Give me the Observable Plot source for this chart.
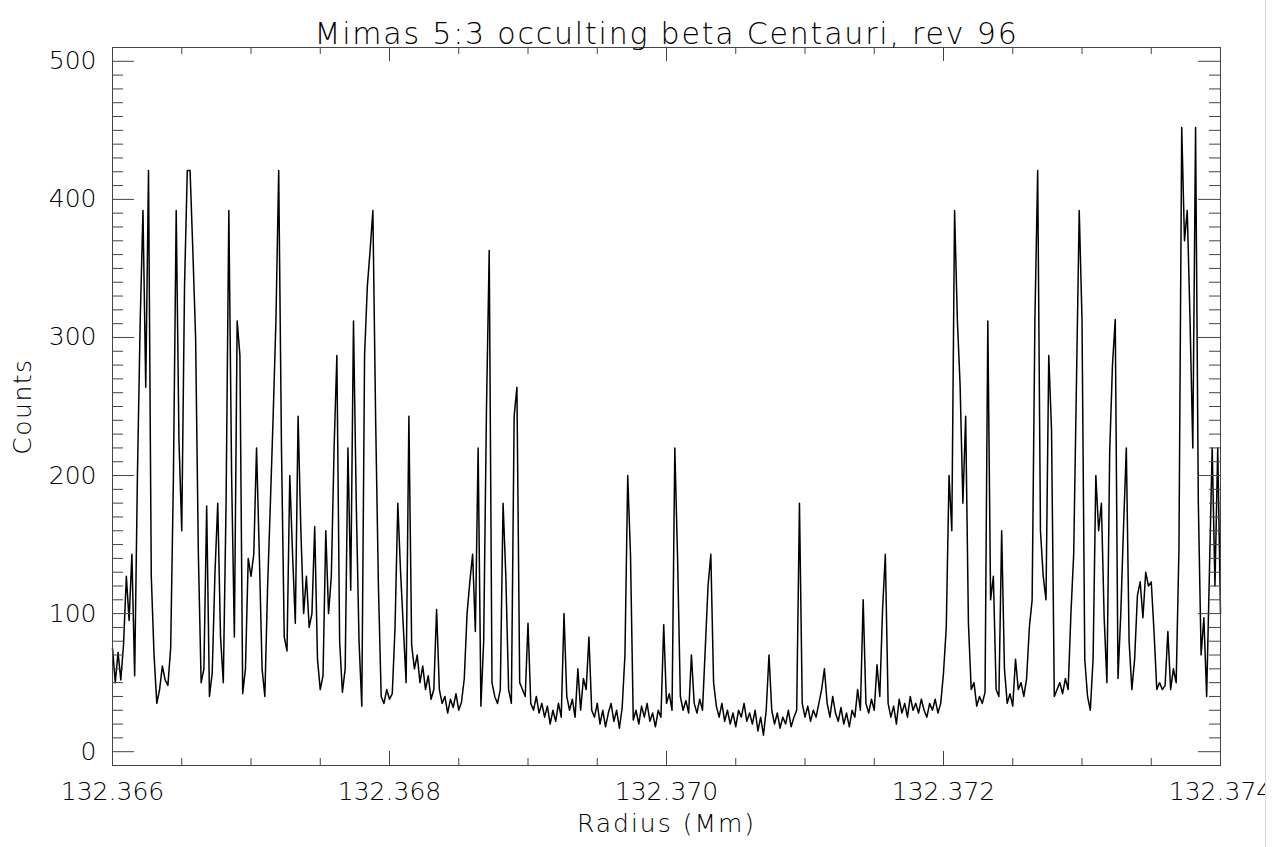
<!DOCTYPE html>
<html>
<head>
<meta charset="utf-8">
<script src="https://cdn.jsdelivr.net/npm/d3@7"></script>
<script src="https://cdn.jsdelivr.net/npm/@observablehq/plot@0.6"></script>
<style>
html, body { margin: 0; padding: 0; background: #fff; }
#chart { position: relative; width: 1272px; height: 847px; overflow: hidden; }
#chart svg text { font-weight: 200; }
#edge { position: absolute; left: 1265px; top: 0; width: 7px; height: 847px; background: #fff; border-left: 1px solid #d9d9d9; box-sizing: border-box; }
</style>
</head>
<body>
<div id="chart"></div>
<script>
// ---- Chart text ----
const title = "Mimas 5:3 occulting beta Centauri, rev 96";
const xLabel = "Radius (Mm)";
const yLabel = "Counts";

// ---- Axis ticks ----
const xTicks = [132.366, 132.368, 132.370, 132.372, 132.374];
const xTickLabels = ["132.366", "132.368", "132.370", "132.372", "132.374"];
const xMinorTicks = [132.3665, 132.3670, 132.3675, 132.3685, 132.3690, 132.3695,
                     132.3705, 132.3710, 132.3715, 132.3725, 132.3730, 132.3735];
const yTicks = [0, 100, 200, 300, 400, 500];
const yTickLabels = ["0", "100", "200", "300", "400", "500"];
const yMinorTicks = [10, 20, 30, 40, 50, 60, 70, 80, 90,
                     110, 120, 130, 140, 150, 160, 170, 180, 190,
                     210, 220, 230, 240, 250, 260, 270, 280, 290,
                     310, 320, 330, 340, 350, 360, 370, 380, 390,
                     410, 420, 430, 440, 450, 460, 470, 480, 490];

// ---- Series: radius (Mm) ----
const radius = [
132.36600,132.36602,132.36604,132.36606,132.36608,132.36610,132.36612,132.36614,132.36616,132.36618,
132.36620,132.36622,132.36624,132.36626,132.36628,132.36630,132.36632,132.36634,132.36636,132.36638,
132.36640,132.36642,132.36644,132.36646,132.36648,132.36650,132.36652,132.36654,132.36656,132.36658,
132.36660,132.36662,132.36664,132.36666,132.36668,132.36670,132.36672,132.36674,132.36676,132.36678,
132.36680,132.36682,132.36684,132.36686,132.36688,132.36690,132.36692,132.36694,132.36696,132.36698,
132.36700,132.36702,132.36704,132.36706,132.36708,132.36710,132.36712,132.36714,132.36716,132.36718,
132.36720,132.36722,132.36724,132.36726,132.36728,132.36730,132.36732,132.36734,132.36736,132.36738,
132.36740,132.36742,132.36744,132.36746,132.36748,132.36750,132.36752,132.36754,132.36756,132.36758,
132.36760,132.36762,132.36764,132.36766,132.36768,132.36770,132.36772,132.36774,132.36776,132.36778,
132.36780,132.36782,132.36784,132.36786,132.36788,132.36790,132.36792,132.36794,132.36796,132.36798,
132.36800,132.36802,132.36804,132.36806,132.36808,132.36810,132.36812,132.36814,132.36816,132.36818,
132.36820,132.36822,132.36824,132.36826,132.36828,132.36830,132.36832,132.36834,132.36836,132.36838,
132.36840,132.36842,132.36844,132.36846,132.36848,132.36850,132.36852,132.36854,132.36856,132.36858,
132.36860,132.36862,132.36864,132.36866,132.36868,132.36870,132.36872,132.36874,132.36876,132.36878,
132.36880,132.36882,132.36884,132.36886,132.36888,132.36890,132.36892,132.36894,132.36896,132.36898,
132.36900,132.36902,132.36904,132.36906,132.36908,132.36910,132.36912,132.36914,132.36916,132.36918,
132.36920,132.36922,132.36924,132.36926,132.36928,132.36930,132.36932,132.36934,132.36936,132.36938,
132.36940,132.36942,132.36944,132.36946,132.36948,132.36950,132.36952,132.36954,132.36956,132.36958,
132.36960,132.36962,132.36964,132.36966,132.36968,132.36970,132.36972,132.36974,132.36976,132.36978,
132.36980,132.36982,132.36984,132.36986,132.36988,132.36990,132.36992,132.36994,132.36996,132.36998,
132.37000,132.37002,132.37004,132.37006,132.37008,132.37010,132.37012,132.37014,132.37016,132.37018,
132.37020,132.37022,132.37024,132.37026,132.37028,132.37030,132.37032,132.37034,132.37036,132.37038,
132.37040,132.37042,132.37044,132.37046,132.37048,132.37050,132.37052,132.37054,132.37056,132.37058,
132.37060,132.37062,132.37064,132.37066,132.37068,132.37070,132.37072,132.37074,132.37076,132.37078,
132.37080,132.37082,132.37084,132.37086,132.37088,132.37090,132.37092,132.37094,132.37096,132.37098,
132.37100,132.37102,132.37104,132.37106,132.37108,132.37110,132.37112,132.37114,132.37116,132.37118,
132.37120,132.37122,132.37124,132.37126,132.37128,132.37130,132.37132,132.37134,132.37136,132.37138,
132.37140,132.37142,132.37144,132.37146,132.37148,132.37150,132.37152,132.37154,132.37156,132.37158,
132.37160,132.37162,132.37164,132.37166,132.37168,132.37170,132.37172,132.37174,132.37176,132.37178,
132.37180,132.37182,132.37184,132.37186,132.37188,132.37190,132.37192,132.37194,132.37196,132.37198,
132.37200,132.37202,132.37204,132.37206,132.37208,132.37210,132.37212,132.37214,132.37216,132.37218,
132.37220,132.37222,132.37224,132.37226,132.37228,132.37230,132.37232,132.37234,132.37236,132.37238,
132.37240,132.37242,132.37244,132.37246,132.37248,132.37250,132.37252,132.37254,132.37256,132.37258,
132.37260,132.37262,132.37264,132.37266,132.37268,132.37270,132.37272,132.37274,132.37276,132.37278,
132.37280,132.37282,132.37284,132.37286,132.37288,132.37290,132.37292,132.37294,132.37296,132.37298,
132.37300,132.37302,132.37304,132.37306,132.37308,132.37310,132.37312,132.37314,132.37316,132.37318,
132.37320,132.37322,132.37324,132.37326,132.37328,132.37330,132.37332,132.37334,132.37336,132.37338,
132.37340,132.37342,132.37344,132.37346,132.37348,132.37350,132.37352,132.37354,132.37356,132.37358,
132.37360,132.37362,132.37364,132.37366,132.37368,132.37370,132.37372,132.37374,132.37376,132.37378,
132.37380,132.37382,132.37384,132.37386,132.37388,132.37390,132.37392,132.37394,132.37396,132.37398,
132.37400
];

// ---- Series: counts ----
const counts = [
75,50,72,52,78,127,95,143,55,200,
312,392,264,421,127,70,35,45,62,52,
48,75,200,392,225,160,337,421,421,363,
300,143,50,60,178,40,57,130,180,83,
50,180,392,200,83,312,287,42,60,140,
127,143,220,143,60,40,120,180,243,312,
421,220,83,73,200,143,93,243,160,100,
127,90,100,163,67,45,55,160,100,127,
220,287,80,43,60,220,117,312,180,80,
33,287,337,363,392,240,120,40,35,45,
38,42,90,180,130,90,50,243,77,60,
70,50,62,45,55,38,45,103,45,35,
40,28,38,32,42,30,36,53,100,123,
143,87,220,33,80,247,363,50,40,35,
45,180,127,45,35,243,264,50,45,40,
93,35,30,40,28,35,25,33,20,30,
22,35,25,100,40,30,38,25,60,30,
53,45,83,30,25,35,20,30,18,28,
35,22,30,17,32,70,200,143,23,30,
20,33,25,35,22,28,18,30,25,92,
35,42,30,220,140,40,30,37,28,70,
35,28,38,30,75,120,143,50,33,25,
35,22,30,20,28,18,30,25,35,22,
28,20,30,15,25,12,30,70,30,20,
28,17,25,20,30,18,25,30,180,35,
25,33,22,30,25,35,45,60,35,25,
40,28,22,32,20,28,18,30,25,45,
30,110,35,28,38,30,63,40,103,143,
35,25,33,20,38,28,35,25,40,30,
35,28,38,30,25,35,30,38,28,35,
57,90,200,160,392,313,265,180,243,93,
45,50,33,40,35,43,312,110,127,45,
40,160,60,35,42,33,67,45,50,40,
53,90,110,313,421,160,127,110,287,233,
40,45,50,42,53,45,100,143,267,392,
313,67,40,30,67,200,160,180,97,50,
217,280,313,53,100,163,220,80,45,67,
113,123,97,130,120,123,87,45,50,45,
48,87,45,60,50,147,452,370,392,313,
220,452,180,70,97,40,130,220,120,220,
100
];

const data = radius.map((r, i) => ({radius: r, counts: counts[i]}));

const W = 1272, H = 847;
const mL = 112, mR = 52, mT = 47, mB = 82;
const fw = W - mL - mR, fh = H - mT - mB;
const axisColor = "#444";
const font = "DejaVu Sans, Liberation Sans, sans-serif";

const chart = Plot.plot({
  width: W,
  height: H,
  marginLeft: mL,
  marginRight: mR,
  marginTop: mT,
  marginBottom: mB,
  style: {fontFamily: font, background: "#fff", color: "#000", overflow: "visible"},
  x: {domain: [132.366, 132.374], axis: null},
  y: {domain: [-10, 510], axis: null},
  marks: [
    Plot.line(data, {x: "radius", y: "counts", curve: "linear", stroke: "#000", strokeWidth: 1.5}),
    Plot.frame({stroke: axisColor, strokeWidth: 1}),
    // x ticks, bottom & top, inward
    Plot.tickX(xTicks, {x: d => d, insetTop: fh - 14, stroke: axisColor}),
    Plot.tickX(xTicks, {x: d => d, insetBottom: fh - 14, stroke: axisColor}),
    Plot.tickX(xMinorTicks, {x: d => d, insetTop: fh - 7, stroke: axisColor}),
    Plot.tickX(xMinorTicks, {x: d => d, insetBottom: fh - 7, stroke: axisColor}),
    // y ticks, left & right, inward
    Plot.tickY(yTicks, {y: d => d, insetRight: fw - 22, stroke: axisColor}),
    Plot.tickY(yTicks, {y: d => d, insetLeft: fw - 22, stroke: axisColor}),
    Plot.tickY(yMinorTicks, {y: d => d, insetRight: fw - 11, stroke: axisColor}),
    Plot.tickY(yMinorTicks, {y: d => d, insetLeft: fw - 11, stroke: axisColor}),
    // tick labels
    Plot.text(xTicks, {x: d => d, text: (d, i) => xTickLabels[i], frameAnchor: "bottom", dy: 34, fontSize: 25, fill: "#000"}),
    Plot.text(yTicks, {y: d => d, text: (d, i) => yTickLabels[i], frameAnchor: "left", dx: -16, textAnchor: "end", fontSize: 25, fill: "#000"}),
    // titles
    Plot.text([title], {text: d => d, frameAnchor: "top", dy: -25, fontSize: 30, fill: "#000"}),
    Plot.text([xLabel], {text: d => d, frameAnchor: "bottom", dy: 66, fontSize: 25, fill: "#000"}),
    Plot.text([yLabel], {text: d => d, frameAnchor: "left", dx: -90, rotate: -90, textAnchor: "middle", fontSize: 25, fill: "#000"})
  ]
});

// wider letter spacing, like the vector font of the original
const spacing = new Map([[title, "1.8px"], [xLabel, "2px"], [yLabel, "1.5px"]]);
d3.select(chart).selectAll("text").each(function () {
  const s = spacing.get(this.textContent);
  if (s) this.setAttribute("letter-spacing", s);
});

const holder = document.getElementById("chart");
holder.appendChild(chart);
const edge = document.createElement("div");
edge.id = "edge";
holder.appendChild(edge);
</script>
</body>
</html>
